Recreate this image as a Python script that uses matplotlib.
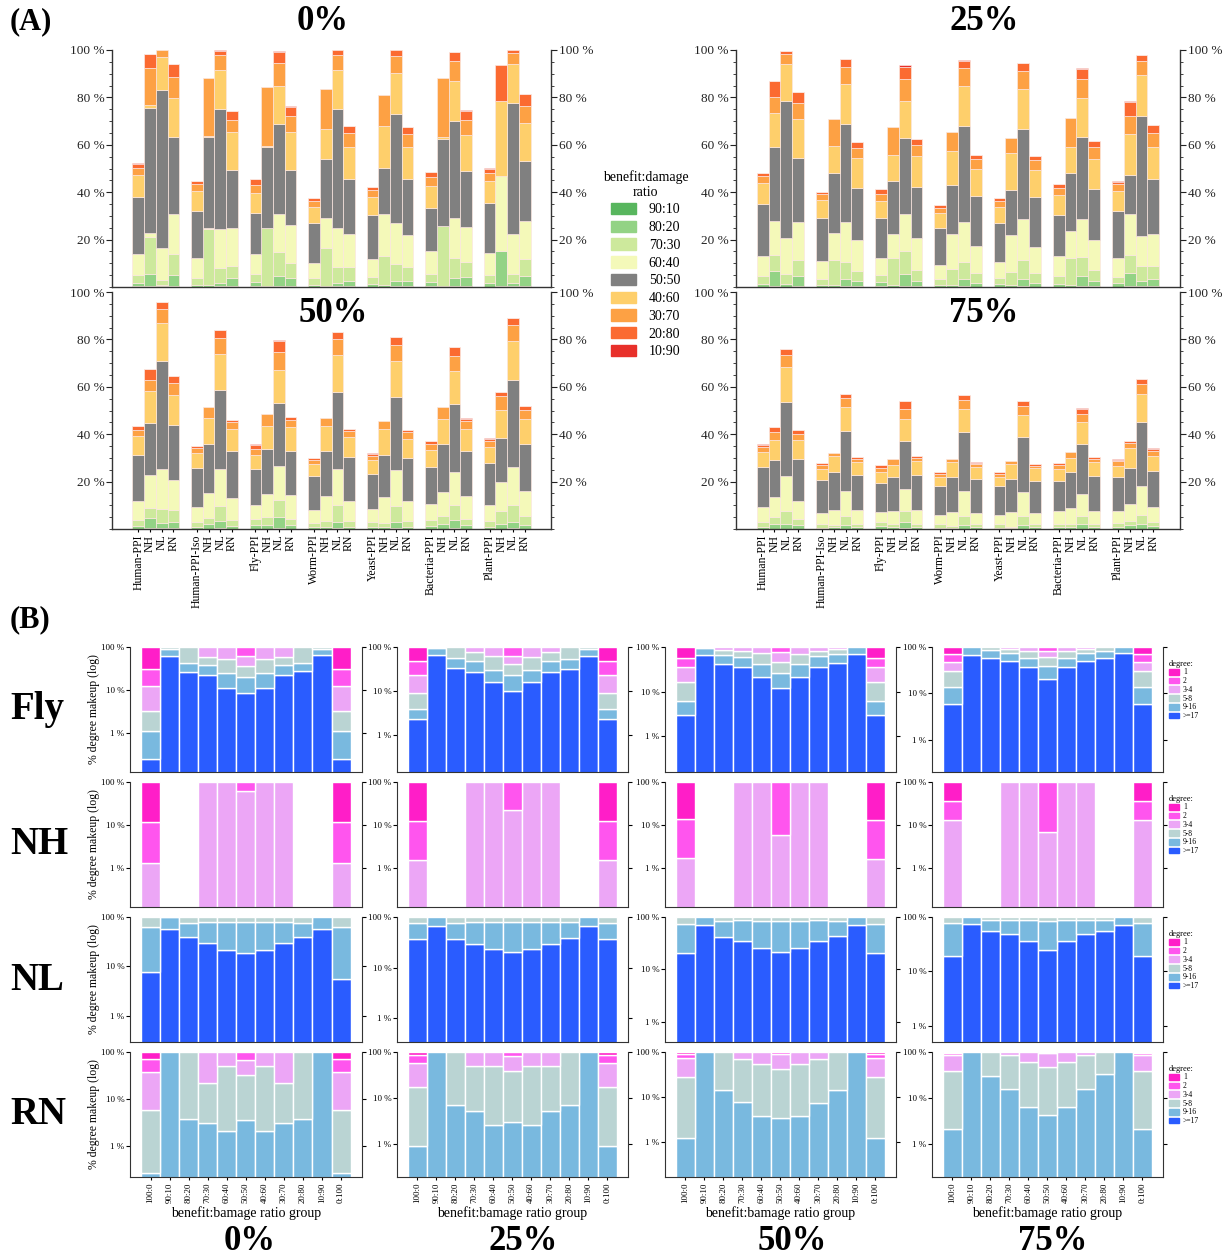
import numpy as np
import matplotlib
matplotlib.use("Agg")
import matplotlib.pyplot as plt
from matplotlib.patches import Patch
from matplotlib.ticker import FixedLocator, MultipleLocator, NullLocator, FuncFormatter

plt.rcParams['font.family'] = ['Liberation Serif', 'DejaVu Serif']

# ---------------- panel A data ----------------
networks = ["Human-PPI", "Human-PPI-Iso", "Fly-PPI", "Worm-PPI", "Yeast-PPI", "Bacteria-PPI", "Plant-PPI"]
variants = ["PPI", "NH", "NL", "RN"]
ratio_labels = ["90:10", "80:20", "70:30", "60:40", "50:50", "40:60", "30:70", "20:80", "10:90"]
ratio_colors = ["#58b65e", "#93d385", "#cde99c", "#f4f9b9", "#808080",
                "#fecf6b", "#fda144", "#fb6a31", "#e8302a"]

# cumulative top (%) of each ratio class, bars ordered network x (PPI, NH, NL, RN)
a_0 = [
    [0.3, 1.7, 4.9, 14.1, 38.0, 47.2, 50.3, 52.0, 52.2],
    [0.5, 5.6, 21.1, 22.8, 75.4, 76.8, 92.5, 98.2, 98.3],
    [0.3, 0.8, 2.8, 16.6, 83.1, 97.2, 100, 100, 100],
    [0.3, 5.2, 13.8, 30.6, 63.1, 79.9, 88.5, 93.9, 94.1],
    [0.2, 1.0, 3.9, 12.4, 32.1, 40.6, 43.4, 44.6, 44.8],
    [0.2, 0.7, 24.6, 24.9, 63.4, 63.8, 88.0, 88.0, 88.0],
    [0.3, 1.8, 8.2, 24.4, 74.9, 91.5, 97.7, 99.6, 99.8],
    [0.3, 3.8, 8.7, 25.1, 49.3, 65.2, 70.3, 74.2, 74.3],
    [0.3, 2.3, 5.6, 13.9, 31.4, 39.7, 43.1, 45.4, 45.6],
    [0.1, 0.4, 25.1, 25.1, 59.2, 59.5, 84.5, 84.5, 84.5],
    [0.5, 4.5, 14.8, 31.0, 68.6, 84.9, 94.6, 99.3, 99.6],
    [0.3, 3.8, 10.3, 26.3, 49.3, 65.5, 72.3, 76.1, 76.2],
    [0.2, 1.0, 3.8, 10.3, 27.2, 33.8, 36.3, 37.5, 37.6],
    [0.1, 0.4, 16.6, 29.2, 54.2, 66.5, 83.4, 83.4, 83.4],
    [0.3, 1.8, 8.5, 25.1, 74.9, 91.5, 97.9, 100, 100],
    [0.3, 2.7, 8.5, 22.3, 45.6, 59.2, 65.1, 67.9, 68.0],
    [0.2, 1.4, 4.2, 11.8, 30.4, 37.9, 40.8, 42.3, 42.4],
    [0.2, 1.0, 13.0, 30.8, 50.1, 67.9, 81.1, 81.1, 81.1],
    [0.3, 2.5, 9.6, 26.9, 73.2, 90.3, 97.6, 100, 100],
    [0.3, 2.5, 8.5, 22.0, 45.4, 58.9, 64.6, 67.3, 67.4],
    [0.3, 2.0, 5.6, 15.1, 33.2, 42.8, 46.5, 48.5, 48.7],
    [0.1, 0.4, 25.6, 25.6, 62.5, 63.1, 88.3, 88.3, 88.3],
    [0.4, 3.7, 12.1, 29.2, 70.0, 87.0, 95.5, 99.0, 99.2],
    [0.4, 4.1, 10.4, 25.2, 49.0, 64.1, 70.4, 74.4, 74.5],
    [0.2, 1.5, 4.9, 14.4, 35.5, 44.8, 48.0, 50.0, 50.1],
    [0.5, 15.2, 15.2, 46.8, 46.8, 78.5, 78.5, 93.7, 93.7],
    [0.3, 1.8, 5.6, 22.3, 77.7, 94.1, 98.6, 100, 100],
    [0.4, 4.5, 12.0, 27.9, 53.1, 69.0, 76.3, 81.3, 81.4],
]
a_25 = [
    [0.2, 1.4, 4.5, 13.0, 35.2, 43.7, 46.8, 48.2, 48.3],
    [0.3, 6.8, 13.4, 27.9, 58.9, 73.5, 80.0, 86.9, 87.0],
    [0.2, 1.1, 5.4, 20.8, 78.6, 93.9, 98.3, 99.6, 99.7],
    [0.3, 4.5, 11.3, 27.5, 54.6, 70.7, 77.7, 82.1, 82.2],
    [0.2, 1.0, 3.4, 10.8, 29.2, 36.9, 39.2, 40.1, 40.2],
    [0.1, 0.7, 11.3, 22.8, 48.2, 59.6, 70.8, 70.8, 70.8],
    [0.3, 3.2, 10.6, 27.5, 68.7, 85.6, 93.0, 96.2, 96.3],
    [0.3, 2.4, 6.8, 19.7, 41.7, 54.5, 58.7, 61.1, 61.2],
    [0.3, 2.1, 4.9, 12.4, 29.0, 36.2, 39.2, 41.3, 41.4],
    [0.1, 0.7, 12.1, 22.5, 44.8, 55.5, 67.5, 67.5, 67.5],
    [0.5, 5.4, 15.2, 31.0, 62.8, 78.6, 87.9, 93.0, 93.5],
    [0.3, 2.5, 7.0, 20.6, 42.1, 55.4, 60.0, 62.4, 62.5],
    [0.2, 1.0, 3.2, 9.2, 25.1, 31.1, 33.4, 34.4, 34.5],
    [0.1, 0.8, 7.7, 22.3, 43.2, 57.5, 65.4, 65.4, 65.4],
    [0.3, 3.2, 10.6, 27.6, 67.9, 84.8, 92.4, 95.5, 95.6],
    [0.2, 1.7, 5.9, 17.2, 38.3, 49.9, 53.8, 55.5, 55.6],
    [0.2, 1.1, 3.7, 10.4, 27.0, 33.8, 36.2, 37.5, 37.6],
    [0.1, 0.7, 6.2, 21.8, 41.1, 56.5, 62.8, 62.8, 62.8],
    [0.3, 3.2, 11.3, 28.5, 66.5, 83.4, 91.3, 94.6, 94.7],
    [0.2, 1.8, 5.9, 16.9, 38.0, 49.3, 53.4, 55.1, 55.2],
    [0.2, 1.4, 4.6, 13.0, 30.4, 38.7, 41.8, 43.4, 43.5],
    [0.1, 0.7, 12.3, 23.5, 47.9, 58.9, 71.3, 71.3, 71.3],
    [0.4, 4.5, 12.7, 28.6, 63.4, 79.7, 87.9, 92.0, 92.2],
    [0.3, 2.5, 7.3, 19.7, 41.4, 54.2, 58.9, 61.7, 61.8],
    [0.2, 1.5, 4.2, 12.4, 32.1, 40.3, 43.4, 44.5, 44.6],
    [0.4, 5.9, 13.4, 31.0, 47.2, 64.5, 72.1, 78.2, 78.3],
    [0.3, 2.5, 8.9, 21.7, 72.3, 89.3, 95.4, 97.9, 98.0],
    [0.3, 3.4, 8.9, 22.5, 45.4, 59.2, 64.9, 68.2, 68.3],
]
a_50 = [
    [0.2, 1.4, 3.9, 11.7, 31.4, 39.1, 41.9, 43.3, 43.4],
    [0.3, 4.6, 8.9, 22.6, 44.7, 58.4, 62.9, 67.5, 67.6],
    [0.3, 2.7, 8.6, 25.3, 70.7, 86.9, 93.0, 95.8, 95.9],
    [0.3, 3.0, 8.0, 20.7, 43.7, 56.7, 61.6, 64.6, 64.7],
    [0.1, 1.0, 3.0, 9.1, 25.7, 32.1, 34.2, 35.0, 35.1],
    [0.2, 2.1, 4.6, 15.2, 36.0, 46.8, 51.3, 51.3, 51.3],
    [0.3, 3.2, 9.6, 25.3, 58.5, 74.0, 80.6, 83.8, 83.9],
    [0.2, 1.3, 3.9, 13.1, 33.1, 42.2, 45.0, 46.1, 46.2],
    [0.2, 1.8, 4.4, 10.3, 25.3, 31.4, 33.9, 35.6, 35.7],
    [0.2, 1.5, 5.2, 14.9, 33.8, 43.3, 48.5, 48.5, 48.5],
    [0.4, 5.2, 12.4, 26.7, 53.0, 67.2, 74.5, 79.5, 79.8],
    [0.2, 1.5, 4.4, 14.2, 33.1, 42.9, 45.9, 47.3, 47.4],
    [0.1, 0.7, 2.5, 7.9, 22.2, 27.4, 29.3, 30.0, 30.1],
    [0.1, 1.0, 3.2, 14.1, 32.9, 43.6, 46.8, 46.8, 46.8],
    [0.3, 3.0, 10.3, 25.5, 57.8, 73.3, 80.2, 83.1, 83.2],
    [0.1, 1.0, 3.5, 12.0, 30.5, 38.7, 41.2, 42.2, 42.3],
    [0.1, 1.0, 2.8, 8.6, 23.2, 29.0, 30.9, 31.8, 31.9],
    [0.1, 0.7, 2.7, 13.5, 31.4, 42.3, 45.4, 45.4, 45.4],
    [0.3, 3.1, 9.8, 25.0, 55.7, 71.0, 77.8, 81.0, 81.1],
    [0.1, 1.0, 3.5, 11.7, 30.0, 38.1, 40.8, 41.6, 41.7],
    [0.2, 1.4, 3.8, 10.7, 26.3, 33.3, 36.0, 37.0, 37.1],
    [0.2, 2.1, 5.6, 15.6, 36.0, 46.3, 51.6, 51.6, 51.6],
    [0.3, 3.7, 10.3, 24.2, 52.7, 66.5, 73.1, 76.8, 76.9],
    [0.2, 1.5, 4.4, 13.9, 32.8, 42.3, 45.4, 46.6, 46.7],
    [0.1, 1.0, 3.5, 10.3, 27.8, 34.6, 37.0, 38.1, 38.2],
    [0.2, 2.3, 7.7, 19.7, 38.4, 50.4, 56.3, 57.8, 57.9],
    [0.3, 3.1, 10.0, 26.3, 62.7, 79.2, 85.9, 89.0, 89.1],
    [0.2, 1.8, 5.6, 15.9, 35.9, 46.6, 50.1, 51.9, 52.0],
]
a_75 = [
    [0.1, 1.0, 3.0, 9.4, 26.0, 32.3, 34.5, 35.6, 35.7],
    [0.2, 2.1, 4.9, 13.5, 29.3, 37.7, 40.8, 42.9, 43.0],
    [0.2, 2.3, 7.5, 22.2, 53.6, 68.5, 73.6, 75.9, 76.0],
    [0.2, 1.5, 4.2, 12.0, 29.7, 37.4, 40.1, 41.6, 41.7],
    [0.1, 0.6, 2.3, 6.9, 20.7, 25.5, 27.0, 27.8, 27.9],
    [0.1, 0.7, 1.5, 8.2, 24.1, 30.7, 32.1, 32.1, 32.1],
    [0.2, 1.8, 5.3, 15.9, 41.2, 51.6, 55.3, 57.0, 57.1],
    [0.1, 0.8, 2.3, 8.0, 22.8, 28.1, 29.7, 30.4, 30.5],
    [0.2, 1.4, 3.1, 7.3, 19.5, 24.1, 25.9, 27.0, 27.1],
    [0.1, 0.7, 2.3, 7.7, 21.8, 27.1, 29.5, 29.5, 29.5],
    [0.3, 3.0, 7.5, 16.9, 37.0, 46.6, 50.8, 53.9, 54.0],
    [0.1, 0.8, 2.3, 8.2, 22.6, 28.6, 30.1, 30.8, 30.9],
    [0.1, 0.6, 2.1, 6.0, 18.0, 21.9, 23.3, 24.1, 24.2],
    [0.1, 0.6, 1.4, 7.3, 21.8, 28.3, 29.7, 29.7, 29.7],
    [0.2, 1.8, 5.6, 15.9, 40.8, 50.8, 54.6, 56.4, 56.5],
    [0.1, 0.8, 2.0, 6.8, 21.1, 26.0, 27.3, 28.0, 28.1],
    [0.1, 0.6, 2.1, 6.0, 18.0, 21.9, 23.3, 24.1, 24.2],
    [0.1, 0.6, 1.0, 7.3, 21.1, 27.4, 28.6, 28.6, 28.6],
    [0.2, 1.8, 5.6, 15.5, 38.7, 48.2, 52.0, 53.9, 54.0],
    [0.1, 0.8, 2.0, 6.8, 20.4, 25.6, 26.7, 27.3, 27.4],
    [0.1, 0.8, 2.3, 7.5, 20.1, 25.3, 26.9, 27.8, 27.9],
    [0.1, 0.7, 2.3, 8.7, 23.9, 30.0, 32.5, 32.5, 32.5],
    [0.2, 2.1, 5.6, 14.9, 36.0, 45.1, 48.5, 50.8, 50.9],
    [0.1, 0.8, 2.3, 7.7, 22.5, 28.1, 29.7, 30.4, 30.5],
    [0.1, 0.8, 2.4, 7.5, 21.8, 26.7, 28.6, 29.3, 29.4],
    [0.2, 1.5, 3.5, 10.7, 25.9, 34.2, 36.3, 37.0, 37.1],
    [0.2, 2.0, 6.0, 18.1, 45.1, 57.1, 61.3, 63.3, 63.4],
    [0.1, 1.1, 3.1, 9.3, 24.6, 30.7, 32.8, 33.9, 34.0],
]

# ---------------- panel B data ----------------
ratio_groups = ["100:0", "90:10", "80:20", "70:30", "60:40", "50:50",
                "40:60", "30:70", "20:80", "10:90", "0:100"]
degree_labels = [">=17", "9-16", "5-8", "3-4", "2", "1"]
degree_colors = ["#2a5cff", "#79b9df", "#bad4d3", "#eca6f6", "#ff55ee", "#ff1ec8"]

# share (%) of nodes with degree >= 17, 9, 5, 3, 2, 1 for each ratio group
fly_0 = [
    [0.24, 1.1, 3.2, 12.4, 30, 100], [63, 92, 100, 100, 100, 100],
    [25.5, 42, 100, 100, 100, 100], [21.7, 38.5, 58, 100, 100, 100],
    [11.3, 24.6, 52, 100, 100, 100], [8.4, 20.5, 36.5, 63, 100, 100],
    [11.3, 24.6, 52, 100, 100, 100], [21.7, 38.5, 58, 100, 100, 100],
    [27, 42, 100, 100, 100, 100], [64, 90, 100, 100, 100, 100],
    [0.24, 1.1, 3.2, 12.4, 30, 100],
]
fly_25 = [
    [2.3, 3.9, 9, 23, 47, 100], [66, 96, 100, 100, 100, 100],
    [33, 56, 100, 100, 100, 100], [26.5, 48, 75, 100, 100, 100],
    [15.6, 30, 61, 100, 100, 100], [10, 23, 41, 63, 100, 100],
    [15.6, 30, 59, 100, 100, 100], [26.5, 48, 75, 100, 100, 100],
    [32, 54, 100, 100, 100, 100], [63, 92, 100, 100, 100, 100],
    [2.3, 3.9, 9, 23, 47, 100],
]
fly_50 = [
    [3.05, 6.1, 16.6, 36, 58, 100], [67, 95, 100, 100, 100, 100],
    [42, 67, 87, 100, 100, 100], [36, 61, 82, 100, 100, 100],
    [21.5, 42, 73, 100, 100, 100], [12.3, 26.5, 47, 76, 100, 100],
    [21.5, 42, 70, 100, 100, 100], [36, 63, 82, 100, 100, 100],
    [45, 70, 90, 100, 100, 100], [70, 100, 100, 100, 100, 100],
    [3.05, 6.3, 16.6, 36, 58, 100],
]
fly_75 = [
    [6.0, 13.9, 31, 48.6, 71.5, 100], [68, 100, 100, 100, 100, 100],
    [57.5, 85, 100, 100, 100, 100], [51, 76, 90, 100, 100, 100],
    [36.6, 57.5, 80, 100, 100, 100], [20, 38, 60.5, 83, 100, 100],
    [36.6, 57.5, 80, 100, 100, 100], [51, 76, 90, 100, 100, 100],
    [57.5, 80, 100, 100, 100, 100], [74, 100, 100, 100, 100, 100],
    [6.0, 13.9, 31, 48.6, 71.5, 100],
]
nh_0 = [
    [0, 0, 0, 1.29, 11.7, 100], [0, 0, 0, 0, 0, 0], [0, 0, 0, 0, 0, 0],
    [0, 0, 0, 100, 100, 100], [0, 0, 0, 100, 100, 100], [0, 0, 0, 62, 100, 100],
    [0, 0, 0, 100, 100, 100], [0, 0, 0, 100, 100, 100],
    [0, 0, 0, 0, 0, 0], [0, 0, 0, 0, 0, 0], [0, 0, 0, 1.29, 11.7, 100],
]
nh_25 = [
    [0, 0, 0, 1.55, 12.1, 100], [0, 0, 0, 0, 0, 0], [0, 0, 0, 0, 0, 0],
    [0, 0, 0, 100, 100, 100], [0, 0, 0, 100, 100, 100], [0, 0, 0, 22, 100, 100],
    [0, 0, 0, 100, 100, 100], [0, 0, 0, 100, 100, 100],
    [0, 0, 0, 0, 0, 0], [0, 0, 0, 0, 0, 0], [0, 0, 0, 1.55, 12.1, 100],
]
nh_50 = [
    [0, 0, 0, 1.73, 13.5, 100], [0, 0, 0, 0, 0, 0], [0, 0, 0, 0, 0, 0],
    [0, 0, 0, 100, 100, 100], [0, 0, 0, 100, 100, 100], [0, 0, 0, 5.8, 100, 100],
    [0, 0, 0, 100, 100, 100], [0, 0, 0, 100, 100, 100],
    [0, 0, 0, 0, 0, 0], [0, 0, 0, 0, 0, 0], [0, 0, 0, 1.65, 13, 100],
]
nh_75 = [
    [0, 0, 0, 12.8, 36, 100], [0, 0, 0, 0, 0, 0], [0, 0, 0, 0, 0, 0],
    [0, 0, 0, 100, 100, 100], [0, 0, 0, 100, 100, 100], [0, 0, 0, 7, 100, 100],
    [0, 0, 0, 100, 100, 100], [0, 0, 0, 100, 100, 100],
    [0, 0, 0, 0, 0, 0], [0, 0, 0, 0, 0, 0], [0, 0, 0, 12.8, 36, 100],
]
nl_0 = [
    [7.8, 64, 100, 100, 100, 100], [57.5, 98, 100, 100, 100, 100],
    [39, 75, 100, 100, 100, 100], [30, 79, 100, 100, 100, 100],
    [21.3, 81, 100, 100, 100, 100], [18.2, 79, 100, 100, 100, 100],
    [21.3, 81, 100, 100, 100, 100], [29, 79, 100, 100, 100, 100],
    [39, 75, 100, 100, 100, 100], [56, 100, 100, 100, 100, 100],
    [5.6, 64, 100, 100, 100, 100],
]
nl_25 = [
    [37, 76, 100, 100, 100, 100], [65, 100, 100, 100, 100, 100],
    [37, 77, 100, 100, 100, 100], [29, 79, 100, 100, 100, 100],
    [23, 79, 100, 100, 100, 100], [20, 79, 100, 100, 100, 100],
    [23, 79, 100, 100, 100, 100], [29, 79, 100, 100, 100, 100],
    [38.6, 80, 100, 100, 100, 100], [66, 100, 100, 100, 100, 100],
    [36, 76, 100, 100, 100, 100],
]
nl_50 = [
    [20.4, 74, 100, 100, 100, 100], [69, 100, 100, 100, 100, 100],
    [42, 84, 100, 100, 100, 100], [35, 86, 100, 100, 100, 100],
    [26, 84, 100, 100, 100, 100], [21, 84, 100, 100, 100, 100],
    [26, 84, 100, 100, 100, 100], [35, 86, 100, 100, 100, 100],
    [43, 84, 100, 100, 100, 100], [69, 100, 100, 100, 100, 100],
    [20.6, 74, 100, 100, 100, 100],
]
nl_75 = [
    [19.3, 78, 100, 100, 100, 100], [75, 100, 100, 100, 100, 100],
    [55, 87, 100, 100, 100, 100], [49, 87, 100, 100, 100, 100],
    [36.7, 87, 100, 100, 100, 100], [25, 84, 100, 100, 100, 100],
    [36.7, 87, 100, 100, 100, 100], [49, 87, 100, 100, 100, 100],
    [55, 87, 100, 100, 100, 100], [70, 100, 100, 100, 100, 100],
    [19.3, 78, 100, 100, 100, 100],
]
rn_0 = [
    [0, 0.27, 5.8, 38, 72, 100], [0, 100, 100, 100, 100, 100],
    [0, 3.8, 100, 100, 100, 100], [0, 3.1, 21.8, 100, 100, 100],
    [0, 2.1, 50, 100, 100, 100], [0, 3.5, 32, 68, 100, 100],
    [0, 2.05, 50, 100, 100, 100], [0, 3.1, 21.8, 100, 100, 100],
    [0, 3.8, 100, 100, 100, 100], [0, 100, 100, 100, 100, 100],
    [0, 0.27, 5.8, 38, 72, 100],
]
rn_25 = [
    [0, 0.9, 17.3, 59, 87, 100], [0, 100, 100, 100, 100, 100],
    [0, 7, 100, 100, 100, 100], [0, 5.1, 50.6, 100, 100, 100],
    [0, 2.55, 49.7, 100, 100, 100], [0, 3.03, 39, 80, 100, 100],
    [0, 2.6, 49, 100, 100, 100], [0, 5.1, 50.6, 100, 100, 100],
    [0, 7, 100, 100, 100, 100], [0, 100, 100, 100, 100, 100],
    [0, 0.9, 17.3, 59, 87, 100],
]
rn_50 = [
    [0, 1.25, 28, 73, 92, 100], [0, 100, 100, 100, 100, 100],
    [0, 14.6, 100, 100, 100, 100], [0, 7.7, 70.7, 100, 100, 100],
    [0, 3.86, 53.6, 100, 100, 100], [0, 3.42, 42, 90, 100, 100],
    [0, 3.86, 53.6, 100, 100, 100], [0, 7.5, 70.7, 100, 100, 100],
    [0, 14.1, 100, 100, 100, 100], [0, 100, 100, 100, 100, 100],
    [0, 1.25, 28, 73, 92, 100],
]
rn_75 = [
    [0, 2.1, 38.7, 84, 95, 100], [0, 100, 100, 100, 100, 100],
    [0, 30.6, 100, 100, 100, 100], [0, 15.3, 84, 100, 100, 100],
    [0, 6.4, 60, 100, 100, 100], [0, 4.35, 48, 95, 100, 100],
    [0, 6.4, 60, 100, 100, 100], [0, 15.3, 84, 100, 100, 100],
    [0, 32.6, 100, 100, 100, 100], [0, 100, 100, 100, 100, 100],
    [0, 2.1, 38.7, 84, 95, 100],
]

W, H = 1223, 1258
fig = plt.figure(figsize=(W / 100, H / 100), dpi=100)


def add_ax(x0, y0, x1, y1):
    return fig.add_axes([x0 / W, 1 - y1 / H, (x1 - x0) / W, (y1 - y0) / H])


pct = FuncFormatter(lambda v, p: "%d %%" % v)

# ---------------- panel A ----------------
xa = np.array([g * 5 + i for g in range(len(networks)) for i in range(4)])
xlabels_a = []
for n in networks:
    xlabels_a += [n, "NH", "NL", "RN"]

panels_a = [
    (a_0, (112, 50, 551, 287), "0%", (323, 22), False),
    (a_25, (736, 50, 1180, 287), "25%", (984, 22), False),
    (a_50, (112, 292, 551, 529), "50%", (333, 313), True),
    (a_75, (736, 292, 1180, 529), "75%", (984, 313), True),
]
for data, box, title, tpos, show_x in panels_a:
    ax = add_ax(*box)
    vals = np.array(data)
    prev = np.zeros(len(xa))
    for k in range(len(ratio_labels)):
        h = vals[:, k] - prev
        m = h > 0
        ax.bar(xa[m], h[m], bottom=prev[m], width=1, align='edge',
               color=ratio_colors[k], edgecolor='#fbe6e0', linewidth=0.5)
        prev = vals[:, k]
    ax.set_xlim(-1.75, 35.75)
    ax.set_ylim(0, 100)
    ax.spines['top'].set_visible(False)
    for s in ['left', 'right', 'bottom']:
        ax.spines[s].set_linewidth(1.0)
        ax.spines[s].set_color('#333333')
    ax.yaxis.set_major_locator(FixedLocator([20, 40, 60, 80, 100]))
    ax.yaxis.set_minor_locator(MultipleLocator(5))
    ax.yaxis.set_major_formatter(pct)
    ax.tick_params(axis='y', which='both', left=True, right=True,
                   labelleft=True, labelright=True, labelsize=9.5,
                   colors='#222222', pad=1.5)
    ax.tick_params(axis='y', which='major', length=4)
    ax.tick_params(axis='y', which='minor', length=2)
    if show_x:
        ax.set_xticks(xa + 0.5)
        ax.set_xticklabels(xlabels_a, rotation=90, fontsize=8.5)
        ax.tick_params(axis='x', length=2, pad=2)
    else:
        ax.set_xticks([])
    fig.text(tpos[0] / W, 1 - tpos[1] / H, title, ha='center', va='center',
             fontsize=25, fontweight='bold')

leg = fig.legend(handles=[Patch(color=c, label=l) for c, l in zip(ratio_colors, ratio_labels)],
                 title="benefit:damage\nratio", loc='upper left',
                 bbox_to_anchor=(596 / W, 1 - 163 / H), frameon=False,
                 fontsize=10, title_fontsize=10, handlelength=1.8, handleheight=0.9,
                 labelspacing=0.3, handletextpad=0.9, borderpad=0)
leg.get_title().set_multialignment('center')

fig.text(10 / W, 1 - 22 / H, "(A)", ha='left', va='center', fontsize=22, fontweight='bold')
fig.text(10 / W, 1 - 620 / H, "(B)", ha='left', va='center', fontsize=22, fontweight='bold')

# ---------------- panel B ----------------
rows_b = [("Fly", [fly_0, fly_25, fly_50, fly_75], [0.122, 0.14, 0.16, 0.2]),
          ("NH", [nh_0, nh_25, nh_50, nh_75], [0.123, 0.123, 0.123, 0.123]),
          ("NL", [nl_0, nl_25, nl_50, nl_75], [0.29, 0.34, 0.41, 0.5]),
          ("RN", [rn_0, rn_25, rn_50, rn_75], [0.218, 0.19, 0.17, 0.19])]
col_x = [(130, 362), (397, 628), (665, 896), (932, 1163)]
row_y = [(647, 772), (782, 907), (917, 1042), (1052, 1177)]
col_titles = ["0%", "25%", "50%", "75%"]
col_title_x = [250, 523, 792, 1053]
xb = np.arange(len(ratio_groups))

for r, (rname, datasets, lows) in enumerate(rows_b):
    for c, data in enumerate(datasets):
        ax = add_ax(col_x[c][0], row_y[r][0], col_x[c][1], row_y[r][1])
        ax.set_yscale('log')
        lo = lows[c]
        vals = np.array(data, dtype=float)
        prev = np.full(len(xb), lo * 0.5)
        for k in range(len(degree_labels)):
            top = vals[:, k]
            m = top > prev
            ax.bar(xb[m], top[m] - prev[m], bottom=prev[m], width=1,
                   color=degree_colors[k], edgecolor='white', linewidth=1.0)
            prev = np.maximum(prev, top)
        ax.set_ylim(lo, 100)
        ax.set_xlim(-1.08, 11.1)
        ax.spines['top'].set_visible(False)
        for s in ['left', 'right', 'bottom']:
            ax.spines[s].set_color('#333333')
        ax.yaxis.set_major_locator(FixedLocator([1, 10, 100]))
        ax.yaxis.set_minor_locator(NullLocator())
        ax.yaxis.set_major_formatter(pct)
        ax.tick_params(axis='y', left=True, right=True, labelleft=True,
                       labelright=False, labelsize=6.5, length=3, pad=1)
        if r == 3:
            ax.set_xticks(xb)
            ax.set_xticklabels(ratio_groups, rotation=90, fontsize=6.5)
            ax.tick_params(axis='x', length=2, pad=2)
            ax.set_xlabel("benefit:bamage ratio group", fontsize=10, labelpad=2)
        else:
            ax.set_xticks([])
        if c == 0:
            ax.set_ylabel("% degree makeup (log)", fontsize=8.5, labelpad=1)
        if c == 3:
            hs = [Patch(color=degree_colors[k], label=degree_labels[k])
                  for k in range(len(degree_labels) - 1, -1, -1)]
            ax.legend(handles=hs, title="degree:", loc='upper left',
                      bbox_to_anchor=(1.01, 0.93), frameon=False, fontsize=5.5,
                      title_fontsize=6, handlelength=1.3, handleheight=0.8,
                      labelspacing=0.1, handletextpad=0.5, borderpad=0,
                      alignment='left')
    fig.text(10 / W, 1 - (row_y[r][0] + 63) / H, rname, ha='left', va='center',
             fontsize=28, fontweight='bold')

for c, t in enumerate(col_titles):
    fig.text(col_title_x[c] / W, 1 - 1241 / H, t, ha='center', va='center',
             fontsize=25, fontweight='bold')

fig.savefig("out.png", dpi=100)
